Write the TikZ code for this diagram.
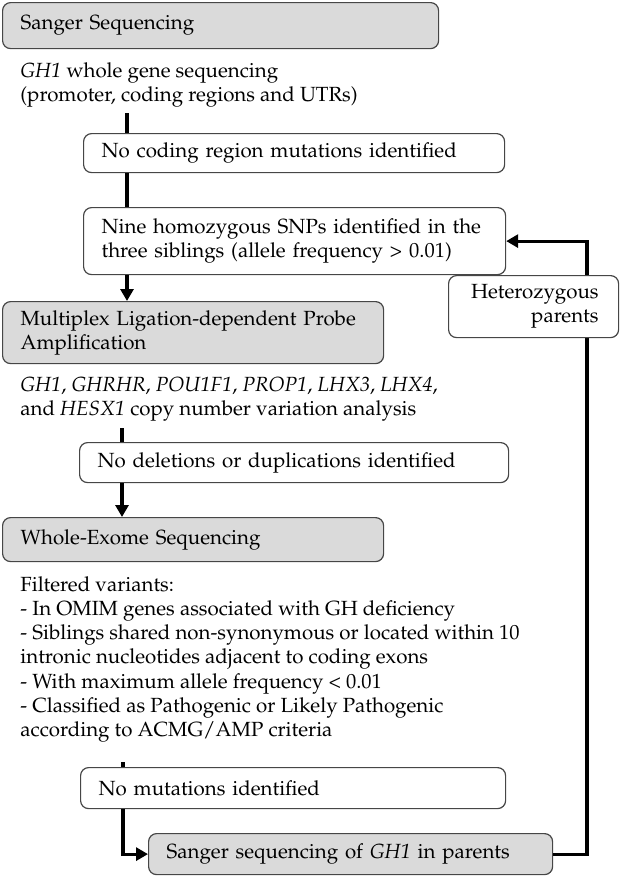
\documentclass[tikz,border=0pt]{standalone}
\usepackage[T1]{fontenc}
\usepackage{mathpazo}
\usepackage{tikz}
\usetikzlibrary{arrows.meta,positioning,calc}
\definecolor{boxgray}{RGB}{218,218,218}
\definecolor{edgegray}{RGB}{70,70,70}
\tikzset{
  box/.style ={draw=edgegray,line width=0.6pt,rounded corners=4pt,anchor=north west,
               align=left,inner xsep=9pt,inner ysep=0pt,font=\fontsize{10.25}{12.1}\selectfont},
  gbox/.style={box,fill=boxgray},
  wbox/.style={box,fill=white},
  txt/.style ={anchor=north west,align=left,inner sep=0pt,font=\fontsize{10.25}{12.1}\selectfont},
  ln/.style  ={line width=1.6pt},
  ar/.style  ={line width=1.6pt,-{Triangle[length=6pt,width=6.5pt]}},
}
\begin{document}
\begin{tikzpicture}[x=0.5pt,y=-0.5pt]
  \useasboundingbox (0,0) rectangle (621,879);
  % first block: Sanger sequencing
  \node[gbox,text width=200pt,minimum height=23pt] (sanger) at (2,2) {Sanger Sequencing};
  \node[txt] (gh1txt) at (20,62) {\textit{GH1} whole gene sequencing\\(promoter, coding regions and UTRs)};
  \node[wbox,text width=192.5pt,minimum height=19.5pt] (nocod) at (83,133) {No coding region mutations identified};
  \node[wbox,text width=193pt,minimum height=33.5pt] (snps) at (83,207)
    {Nine homozygous SNPs identified in the\\three siblings (allele frequency > 0.01)};
  % second block: MLPA
  \node[gbox,text width=172.5pt,minimum height=31pt] (mlpa) at (2,301)
    {Multiplex Ligation-dependent Probe\\Amplification};
  \node[txt] (cnvtxt) at (20,377)
    {\textit{GH1}, \textit{GHRHR}, \textit{POU1F1}, \textit{PROP1}, \textit{LHX3}, \textit{LHX4},\\and \textit{HESX1} copy number variation analysis};
  \node[wbox,text width=196.5pt,minimum height=20pt] (nodel) at (79,442) {No deletions or duplications identified};
  % third block: WES
  \node[gbox,text width=172.5pt,minimum height=22pt] (wes) at (2,517) {Whole-Exome Sequencing};
  \node[txt] (filtxt) at (20,576)
    {Filtered variants:\\
     - In OMIM genes associated with GH deficiency\\
     - Siblings shared non-synonymous or located within 10\\
     intronic nucleotides adjacent to coding exons\\
     - With maximum allele frequency < 0.01\\
     - Classified as Pathogenic or Likely Pathogenic\\
     according to ACMG/AMP criteria};
  \node[wbox,text width=194.5pt,minimum height=20.5pt] (nomut) at (80,767) {No mutations identified};
  \node[gbox,text width=184pt,minimum height=20.5pt] (parents) at (148,833) {Sanger sequencing of \textit{GH1} in parents};
  % connectors
  \coordinate (s1) at (127,113);
  \coordinate (s2) at (122,428);
  \coordinate (s3) at (123,762);
  \coordinate (loop) at (587,853);
  \draw[ln] (s1) -- (s1 |- nocod.north);
  \draw[ln] (nocod.south -| s1) -- (snps.north -| s1);
  \draw[ar] (snps.south -| s1) -- (mlpa.north -| s1);
  \draw[ln] (s2) -- (s2 |- nodel.north);
  \draw[ar] (nodel.south -| s2) -- (wes.north -| s2);
  \draw[ln] (s3) -- (s3 |- nomut.north);
  \draw[ar] (nomut.south -| s3) |- (parents.west);
  \draw[ar] (parents.east) -| (loop |- snps.east) -- (snps.east);
  \node[wbox,text width=65pt,inner xsep=10pt,minimum height=31pt,align=right] (hetero) at (448,275)
    {Heterozygous\\parents};
\end{tikzpicture}
\end{document}
